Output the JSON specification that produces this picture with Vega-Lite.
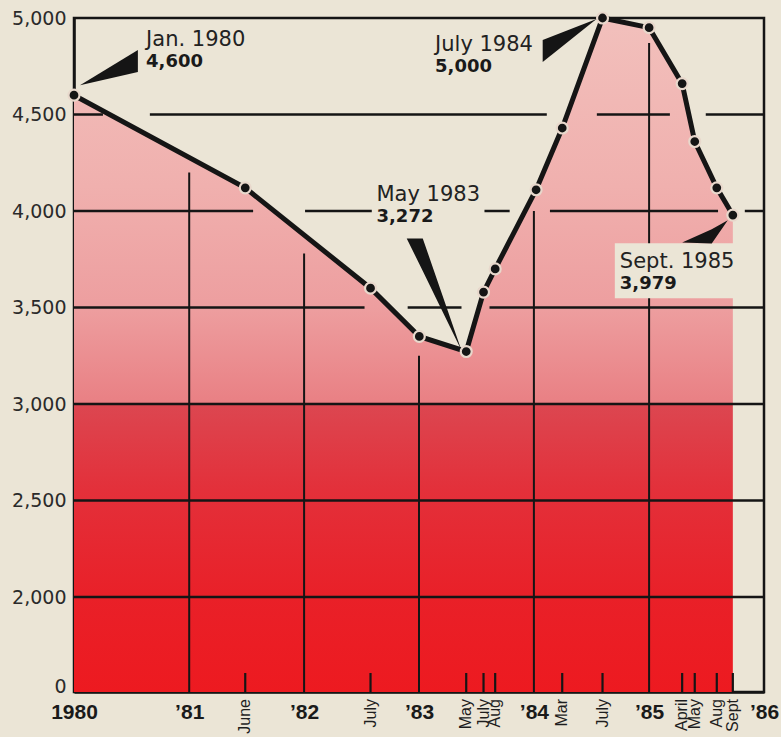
{
  "$schema": "https://vega.github.io/schema/vega-lite/v6.json",
  "width": 690,
  "height": 674,
  "autosize": {"type": "none"},
  "padding": {"left": 74, "top": 18, "right": 17, "bottom": 45},
  "background": "#ebe5d6",
  "config": {
    "view": {"stroke": "#151515", "strokeWidth": 2.5},
    "axisX": {"domainColor": "#151515", "domainWidth": 2.5, "ticks": false, "grid": false, "labelFont": "Liberation Sans", "labelFontWeight": "bold", "labelFontSize": 21, "labelColor": "#1a1a1a", "labelPadding": 9, "labelOverlap": false, "labelFlush": false},
    "axisY": {"domainColor": "#151515", "domainWidth": 2.5, "ticks": false, "grid": false, "labelFont": "DejaVu Sans", "labelFontSize": 19, "labelColor": "#2a2a2a", "labelPadding": 8, "labelOverlap": false, "labelFlush": false}
  },
  "datasets": {
    "series": [
      {"date": "1980-01-01", "value": 4600, "month": null},
      {"date": "1981-06-28", "value": 4120, "month": "June"},
      {"date": "1982-07-31", "value": 3600, "month": "July"},
      {"date": "1983-01-02", "value": 3350, "month": null},
      {"date": "1983-05-31", "value": 3272, "month": "May"},
      {"date": "1983-07-25", "value": 3580, "month": "July"},
      {"date": "1983-08-31", "value": 3700, "month": "Aug"},
      {"date": "1984-01-08", "value": 4110, "month": null},
      {"date": "1984-03-31", "value": 4430, "month": "Mar"},
      {"date": "1984-08-06", "value": 5000, "month": "July"},
      {"date": "1985-01-01", "value": 4950, "month": null},
      {"date": "1985-04-16", "value": 4660, "month": "April"},
      {"date": "1985-05-26", "value": 4360, "month": "May"},
      {"date": "1985-08-04", "value": 4120, "month": "Aug"},
      {"date": "1985-09-24", "value": 3979, "month": "Sept"}
    ],
    "years": [
      {"date": "1981-01-01", "top": 4200},
      {"date": "1982-01-01", "top": 3780},
      {"date": "1983-01-01", "top": 3250},
      {"date": "1984-01-01", "top": 4000},
      {"date": "1985-01-01", "top": 4870}
    ],
    "grid": [
      {"level": 2000, "from": "1980-01-01", "to": "1986-01-01"},
      {"level": 2500, "from": "1980-01-01", "to": "1986-01-01"},
      {"level": 3000, "from": "1980-01-01", "to": "1986-01-01"},
      {"level": 3500, "from": "1980-01-01", "to": "1982-07-12"},
      {"level": 3500, "from": "1982-11-26", "to": "1983-05-16"},
      {"level": 3500, "from": "1983-08-13", "to": "1986-01-01"},
      {"level": 4000, "from": "1980-01-01", "to": "1981-07-23"},
      {"level": 4000, "from": "1982-01-04", "to": "1982-08-04"},
      {"level": 4000, "from": "1983-07-28", "to": "1983-10-16"},
      {"level": 4000, "from": "1984-02-21", "to": "1985-08-08"},
      {"level": 4000, "from": "1985-11-01", "to": "1986-01-01"},
      {"level": 4500, "from": "1980-01-01", "to": "1980-04-02"},
      {"level": 4500, "from": "1980-08-29", "to": "1984-02-11"},
      {"level": 4500, "from": "1984-07-19", "to": "1985-03-08"},
      {"level": 4500, "from": "1985-06-30", "to": "1986-01-01"}
    ],
    "wedges": [
      {"callout": "jan", "date": "1980-01-20", "top": 4652, "bottom": 4652},
      {"callout": "jan", "date": "1980-07-22", "top": 4834, "bottom": 4720},
      {"callout": "jul", "date": "1984-01-29", "top": 4886, "bottom": 4772},
      {"callout": "jul", "date": "1984-07-18", "top": 4995, "bottom": 4995},
      {"callout": "may", "date": "1982-11-23", "top": 3858, "bottom": 3858},
      {"callout": "may", "date": "1983-01-13", "top": 3858, "bottom": 3689},
      {"callout": "may", "date": "1983-05-16", "top": 3277, "bottom": 3277},
      {"callout": "sep", "date": "1985-04-16", "top": 3837, "bottom": 3837},
      {"callout": "sep", "date": "1985-07-19", "top": 3905, "bottom": 3832},
      {"callout": "sep", "date": "1985-09-08", "top": 3952, "bottom": 3952}
    ],
    "notes": [
      {"title": "Jan. 1980", "amount": "4,600", "date": "1980-08-17", "value": 4886},
      {"title": "July 1984", "amount": "5,000", "date": "1983-02-21", "value": 4860},
      {"title": "May 1983", "amount": "3,272", "date": "1982-08-19", "value": 4081},
      {"title": "Sept. 1985", "amount": "3,979", "date": "1984-09-30", "value": 3734}
    ]
  },
  "layer": [
    {
      "data": {"name": "series"},
      "mark": {
        "type": "area",
        "fill": {
          "gradient": "linear", "x1": 0, "y1": 0, "x2": 0, "y2": 1,
          "stops": [
            {"offset": 0, "color": "#f2c0bc"},
            {"offset": 0.25, "color": "#f0b0ae"},
            {"offset": 0.43, "color": "#ed9e9f"},
            {"offset": 0.57, "color": "#e98084"},
            {"offset": 0.575, "color": "#dc4650"},
            {"offset": 0.7, "color": "#e3303a"},
            {"offset": 0.86, "color": "#e92028"},
            {"offset": 1, "color": "#ed1a20"}
          ]
        }
      },
      "encoding": {
        "x": {
          "field": "date", "type": "temporal", "title": null,
          "scale": {"type": "utc", "domain": [{"year": 1980, "month": 1, "date": 1, "utc": true}, {"year": 1986, "month": 1, "date": 1, "utc": true}]},
          "axis": {
            "values": [
              {"year": 1980, "month": 1, "date": 1, "utc": true},
              {"year": 1981, "month": 1, "date": 1, "utc": true},
              {"year": 1982, "month": 1, "date": 1, "utc": true},
              {"year": 1983, "month": 1, "date": 1, "utc": true},
              {"year": 1984, "month": 1, "date": 1, "utc": true},
              {"year": 1985, "month": 1, "date": 1, "utc": true},
              {"year": 1986, "month": 1, "date": 1, "utc": true}
            ],
            "labelExpr": "utcyear(datum.value) == 1980 ? '1980' : '\u2019' + utcFormat(datum.value, '%y')"
          }
        },
        "y": {
          "field": "value", "type": "quantitative", "title": null, "stack": null,
          "scale": {"domain": [0, 2000, 5000], "range": [674, 579, 0], "nice": false, "zero": false},
          "axis": {
            "values": [0, 2000, 2500, 3000, 3500, 4000, 4500, 5000],
            "labelExpr": "format(datum.value, ',.0f')",
            "labelBaseline": {"condition": {"test": "datum.value == 0", "value": "alphabetic"}, "value": "middle"}
          }
        }
      }
    },
    {
      "data": {"name": "grid"},
      "mark": {"type": "rule", "color": "#151515", "strokeWidth": 2.5},
      "encoding": {
        "x": {"field": "from", "type": "temporal", "title": null, "scale": {"type": "utc"}},
        "x2": {"field": "to"},
        "y": {"field": "level", "type": "quantitative", "title": null}
      }
    },
    {
      "data": {"name": "years"},
      "mark": {"type": "rule", "color": "#151515", "strokeWidth": 2},
      "encoding": {
        "x": {"field": "date", "type": "temporal", "title": null, "scale": {"type": "utc"}},
        "y": {"field": "top", "type": "quantitative", "title": null},
        "y2": {"datum": 0}
      }
    },
    {
      "data": {"name": "series"},
      "transform": [{"filter": "datum.month != null"}],
      "mark": {"type": "rule", "color": "#151515", "strokeWidth": 2.2},
      "encoding": {
        "x": {"field": "date", "type": "temporal", "title": null, "scale": {"type": "utc"}},
        "y": {"datum": 0},
        "y2": {"datum": 400}
      }
    },
    {
      "data": {"name": "series"},
      "transform": [{"filter": "datum.month != null"}],
      "mark": {"type": "text", "angle": 270, "align": "right", "baseline": "middle", "dx": -7, "font": "Liberation Sans", "fontSize": 16, "color": "#1e1e1e"},
      "encoding": {
        "x": {"field": "date", "type": "temporal", "title": null, "scale": {"type": "utc"}},
        "y": {"datum": 0},
        "text": {"field": "month"}
      }
    },
    {
      "data": {"name": "notes"},
      "transform": [{"filter": "datum.title == 'Sept. 1985'"}],
      "mark": {"type": "rect", "width": 122, "height": 55, "xOffset": 56, "yOffset": 8.5, "color": "#ebe5d6"},
      "encoding": {
        "x": {"field": "date", "type": "temporal", "title": null, "scale": {"type": "utc"}},
        "y": {"field": "value", "type": "quantitative", "title": null}
      }
    },
    {
      "data": {"name": "series"},
      "mark": {"type": "line", "color": "#151515", "strokeWidth": 5},
      "encoding": {
        "x": {"field": "date", "type": "temporal", "title": null, "scale": {"type": "utc"}},
        "y": {"field": "value", "type": "quantitative", "title": null}
      }
    },
    {
      "data": {"name": "series"},
      "mark": {"type": "point", "filled": true, "size": 120, "color": "#151515", "stroke": "#e8d8cc", "strokeWidth": 2.2, "opacity": 1},
      "encoding": {
        "x": {"field": "date", "type": "temporal", "title": null, "scale": {"type": "utc"}},
        "y": {"field": "value", "type": "quantitative", "title": null}
      }
    },
    {
      "data": {"name": "wedges"},
      "mark": {"type": "area", "color": "#151515", "opacity": 1},
      "encoding": {
        "x": {"field": "date", "type": "temporal", "title": null, "scale": {"type": "utc"}},
        "y": {"field": "top", "type": "quantitative", "title": null, "stack": null},
        "y2": {"field": "bottom"},
        "detail": {"field": "callout"}
      }
    },
    {
      "data": {"name": "notes"},
      "mark": {"type": "text", "align": "left", "baseline": "middle", "font": "DejaVu Sans", "fontSize": 21, "color": "#222222"},
      "encoding": {
        "x": {"field": "date", "type": "temporal", "title": null, "scale": {"type": "utc"}},
        "y": {"field": "value", "type": "quantitative", "title": null},
        "text": {"field": "title"}
      }
    },
    {
      "data": {"name": "notes"},
      "mark": {"type": "text", "align": "left", "baseline": "middle", "dy": 22, "font": "DejaVu Sans", "fontWeight": "bold", "fontSize": 18, "color": "#1a1a1a"},
      "encoding": {
        "x": {"field": "date", "type": "temporal", "title": null, "scale": {"type": "utc"}},
        "y": {"field": "value", "type": "quantitative", "title": null},
        "text": {"field": "amount"}
      }
    }
  ]
}
